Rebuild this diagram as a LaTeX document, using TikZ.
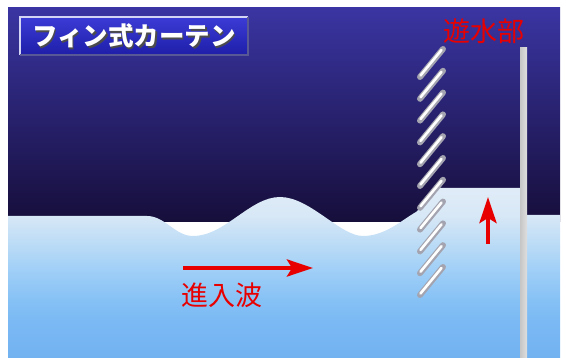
\documentclass[tikz,border=0pt]{standalone}
\usepackage{fontspec}
\newfontfamily\jpfont{Noto Sans CJK JP}
\usetikzlibrary{arrows.meta}

\definecolor{skytop}{HTML}{3A35A2}
\definecolor{skymid}{HTML}{28227C}
\definecolor{skylow}{HTML}{160E3A}
\definecolor{labelred}{HTML}{E80000}
\definecolor{finedge}{HTML}{A4A4B0}

% sea colour from the deep bottom up to the surface (path fills 25bp..75bp)
\pgfdeclareverticalshading{seawater}{100bp}{
  color(0bp)=(rgb,255:red,114;green,178;blue,240);
  color(25bp)=(rgb,255:red,114;green,178;blue,240);
  color(36bp)=(rgb,255:red,122;green,185;blue,244);
  color(42bp)=(rgb,255:red,134;green,193;blue,245);
  color(51bp)=(rgb,255:red,160;green,207;blue,247);
  color(57bp)=(rgb,255:red,182;green,217;blue,246);
  color(67bp)=(rgb,255:red,216;green,232;blue,246);
  color(75bp)=(rgb,255:red,224;green,236;blue,248);
  color(100bp)=(rgb,255:red,224;green,236;blue,248)}

\tikzset{
  redlabel/.style={text=labelred, inner sep=0pt, font=\jpfont\fontsize{27}{27}\selectfont},
  redarrow/.style={draw=labelred, line width=4pt, -{Stealth[length=26pt,width=17pt,inset=5pt]}},
  fin/.style={draw=finedge, line width=6pt, line cap=round},
  finlight/.style={draw=white, line width=2.6pt, line cap=round},
}

\begin{document}
\begin{tikzpicture}[x=1pt,y=-1pt]
\useasboundingbox (0,0) rectangle (566,358);

% night sky behind everything
\shade[top color=skytop, middle color=skymid, bottom color=skylow] (8,8) rectangle (560,222);

% sea with the incoming wave, raised level behind the curtain
\shade[shading=seawater]
  (8,216) -- (147,216)
  .. controls (165,216) and (175,236) .. (193,236)
  .. controls (225,236) and (250,197) .. (280,197)
  .. controls (310,197) and (340,236) .. (363,236)
  .. controls (385,236) and (402,220) .. (416,212)
  .. controls (424,206) and (428,189) .. (436,188)
  -- (522,188) -- (522,215) -- (560,215) -- (560,358) -- (8,358) -- cycle;

% back wall of the pool
\shade[left color=gray!45, middle color=white, right color=gray!25] (520,48) rectangle (527,358);

% the fins of the curtain
\foreach \i in {0,...,10} {
  \draw[fin] (420,{77+21.8*\i}) -- (443,{49+21.8*\i});
  \draw[finlight] (420.5,{75.5+21.8*\i}) -- (441.5,{50+21.8*\i});
}

% title plate
\shade[top color={rgb,255:red,60;green,60;blue,214}, bottom color={rgb,255:red,30;green,30;blue,168}] (20,17) rectangle (248,55);
\draw[color={rgb,255:red,212;green,212;blue,244}, line width=1.5pt] (20,55) -- (20,17) -- (248,17);
\draw[color={rgb,255:red,88;green,88;blue,150}, line width=1.5pt] (248,17) -- (248,55) -- (20,55);
\node[text=black!70, inner sep=0pt, font=\jpfont\bfseries\fontsize{25.5}{25.5}\selectfont] (title shadow) at (135.5,37.5) {フィン式カーテン};
\node[text=white, inner sep=0pt, font=\jpfont\bfseries\fontsize{25.5}{25.5}\selectfont] (title) at (134,36) {フィン式カーテン};

% labels
\node[redlabel] (pool) at (484,31) {遊水部};
\node[redlabel] (incident) at (222,295) {進入波};

% arrows: incoming wave and rising water
\coordinate (wave start) at (183,268);
\coordinate (wave end) at (313,268);
\draw[redarrow] (wave start) -- (wave end);
\coordinate (rise start) at (488,244);
\coordinate (rise end) at (488,197);
\draw[redarrow] (rise start) -- (rise end);
\end{tikzpicture}
\end{document}
